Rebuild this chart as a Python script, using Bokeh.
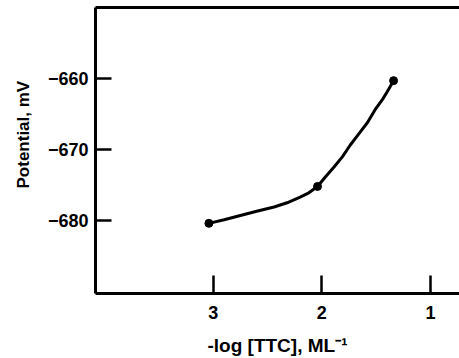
from bokeh.plotting import figure
from bokeh.models import Range1d, LinearAxis, FixedTicker, Title
from bokeh.embed import file_html
from bokeh.resources import INLINE

# ---- data ----
point_x = [3.04, 2.04, 1.34]
point_y = [-680.4, -675.2, -660.3]

curve_x = [3.04, 2.90, 2.75, 2.60, 2.44, 2.32, 2.20, 2.12, 2.04, 1.97,
           1.89, 1.81, 1.74, 1.66, 1.58, 1.51, 1.44, 1.40, 1.34]
curve_y = [-680.4, -679.9, -679.3, -678.7, -678.1, -677.5, -676.7, -676.1, -675.2, -673.9,
           -672.5, -671.0, -669.4, -667.8, -666.2, -664.4, -662.9, -661.9, -660.3]

x_ticks = [3, 2, 1]
x_tick_labels = ["3", "2", "1"]
y_ticks = [-680, -670, -660]
y_tick_labels = ["\u2212680", "\u2212670", "\u2212660"]

x_title = "-log [TTC], ML\u207b\u00b9"
y_title = "Potential, mV"

FONT = "Liberation Sans"

p = figure(width=459, height=358, output_backend="svg", toolbar_location=None,
           x_range=Range1d(4.084, 0.733), y_range=Range1d(-690.28, -650.0),
           x_axis_type=None, y_axis_type=None,
           min_border_left=95, min_border_right=0, min_border_top=7, min_border_bottom=65)
p.outline_line_color = None
p.xgrid.visible = False
p.ygrid.visible = False
p.background_fill_color = "white"
p.border_fill_color = "white"

def style(ax):
    ax.axis_line_width = 3
    ax.axis_line_color = "black"
    ax.major_tick_line_width = 2.5
    ax.major_tick_line_color = "black"
    ax.major_tick_out = 0
    ax.minor_tick_out = 0
    ax.minor_tick_in = 0
    ax.major_label_text_font = FONT
    ax.major_label_text_font_style = "bold"
    ax.major_label_text_color = "black"
    ax.major_label_text_font_size = "18px"
    ax.axis_label_text_font = FONT
    ax.axis_label_text_font_style = "bold"
    ax.axis_label_text_color = "black"

xa = LinearAxis(ticker=FixedTicker(ticks=x_ticks),
                major_label_overrides={t: l for t, l in zip(x_ticks, x_tick_labels)},
                axis_label=x_title)
style(xa)
xa.major_tick_in = 18
xa.major_label_standoff = 12
xa.axis_label_text_font_size = "19px"
xa.axis_label_standoff = 13
p.add_layout(xa, "below")

ya = LinearAxis(ticker=FixedTicker(ticks=y_ticks),
                major_label_overrides={t: l for t, l in zip(y_ticks, y_tick_labels)})
style(ya)
ya.major_tick_in = 16
ya.major_label_standoff = 7
p.add_layout(ya, "left")

ta = LinearAxis(ticker=FixedTicker(ticks=[]))
style(ta)
ta.major_label_text_font_size = "0px"
ta.major_label_standoff = 0
p.add_layout(ta, "above")

yt = Title(text=y_title, align="left", offset=105, standoff=20, vertical_align="top",
           text_font=FONT, text_font_style="bold", text_font_size="17px", text_color="black")
p.add_layout(yt, "left")

p.line(curve_x, curve_y, line_width=3, line_color="black", line_join="round")
p.scatter(point_x, point_y, size=8, fill_color="black", line_color="black")

open("out.html", "w").write(file_html(p, INLINE))
